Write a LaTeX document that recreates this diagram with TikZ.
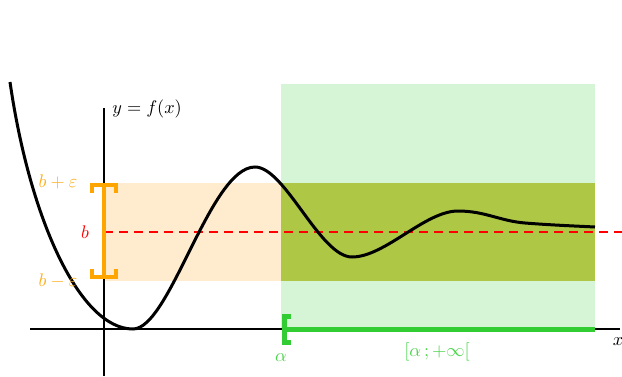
\documentclass[tikz,border=0pt]{standalone}
\usetikzlibrary{calc}
\definecolor{lorange}{RGB}{255,236,206}
\definecolor{lgreen}{RGB}{214,245,215}
\definecolor{olive}{RGB}{174,200,70}
\definecolor{borange}{RGB}{255,165,0}
\definecolor{lborange}{RGB}{255,175,30}
\definecolor{bgreen}{RGB}{50,205,50}
\definecolor{lbgreen}{RGB}{75,212,75}
\tikzset{
  axis/.style={line width=1.2pt, black},
  curve/.style={line width=1.8pt, black},
  obracket/.style={line width=2.9pt, borange},
  gbracket/.style={line width=3pt, bgreen},
  bline/.style={line width=0.9pt, red, dash pattern=on 5.4pt off 3.6pt},
  lab/.style={inner sep=0pt, font=\fontsize{11.3}{13}\selectfont}
}
\begin{document}
\begin{tikzpicture}[x=0.6pt,y=-0.6pt]
\useasboundingbox (0,0) rectangle (622,376);
% bands
\fill[lorange] (104,183) rectangle (281,281);
\fill[lgreen] (281,84) rectangle (595,329);
\fill[olive] (281,183) rectangle (595,281);
% coordinates
\coordinate (xs) at (30,329);
\coordinate (xe) at (620,329);
\coordinate (ys) at (104,376);
\coordinate (ye) at (104,108);
\coordinate (bs) at (104,232);
\coordinate (be) at (622,232);
\coordinate (ot) at (104,185);
\coordinate (ob) at (104,277);
\coordinate (ga) at (284,329);
\coordinate (ge) at (595,329);
% axes
\draw[axis] (xs) -- (xe);
\draw[axis] (ys) -- (ye);
% b line
\draw[bline] (bs) -- (be);
% curve
\draw[curve] (10,82) .. controls (30,220) and (80,329) .. (133,329)
  .. controls (170,329) and (210,167) .. (255,167)
  .. controls (285,167) and (320,257) .. (352,257)
  .. controls (385,257) and (425,211) .. (458,211)
  .. controls (485,211) and (500,221) .. (525,223)
  .. controls (550,225) and (575,226) .. (595,227);
% orange bracket
\draw[obracket] (ot) -- (ob);
\draw[obracket, line cap=butt] ($(ot)+(-12,8)$) -- ($(ot)+(-12,0)$) -- ($(ot)+(12,0)$) -- ($(ot)+(12,8)$);
\draw[obracket, line cap=butt] ($(ob)+(-12,-8)$) -- ($(ob)+(-12,0)$) -- ($(ob)+(12,0)$) -- ($(ob)+(12,-8)$);
% green interval
\draw[gbracket] (ga) -- (ge);
\draw[gbracket, line cap=butt] ($(ga)+(7,-13)$) -- ($(ga)+(0,-13)$) -- ($(ga)+(0,13)$) -- ($(ga)+(7,13)$);
% labels
\node[lab, anchor=west] (yl) at (112,109) {$y=f(x)$};
\node[lab] (xl) at (618,342) {$x$};
\node[lab, lborange] (bp) at (58,182) {$b+\varepsilon$};
\node[lab, lborange] (bm) at (58,281) {$b-\varepsilon$};
\node[lab, red] (bl) at (85,232) {$b$};
\node[lab, lbgreen] (al) at (281,358) {$\alpha$};
\node[lab, lbgreen] (il) at (437,352) {$[\alpha\,;+\infty[$};
\end{tikzpicture}
\end{document}
